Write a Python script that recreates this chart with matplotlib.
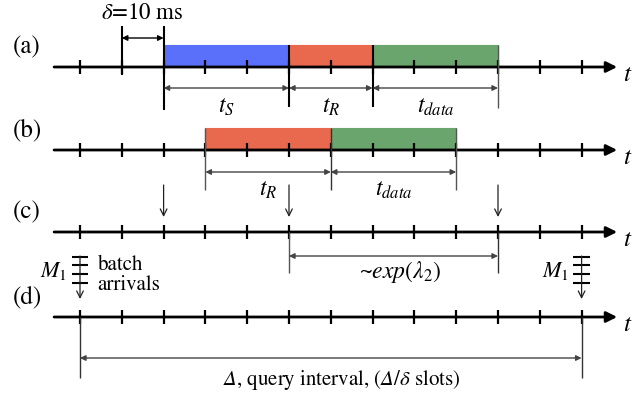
import matplotlib.pyplot as plt

plt.rcParams['font.family'] = 'STIXGeneral'
plt.rcParams['mathtext.fontset'] = 'custom'
plt.rcParams['mathtext.rm'] = 'STIXGeneral'
plt.rcParams['mathtext.it'] = 'STIXGeneral:italic'
plt.rcParams['mathtext.bf'] = 'STIXGeneral:bold'
plt.rcParams['mathtext.sf'] = 'STIXGeneral:italic'   # used for italic capital Delta

# slot grid: 13 tick positions per time line
slots = list(range(13))
row_names = ['(a)', '(b)', '(c)', '(d)']
row_y = [67, 150, 232, 317]

# phases drawn as coloured blocks: (start slot, end slot)
phases_a = [(2, 5), (5, 7), (7, 10)]
phases_b = [(3, 6), (6, 9)]
phase_colors_a = ['#5a70fa', '#e8694e', '#6aa56e']
phase_colors_b = ['#e8694e', '#6aa56e']

# dimension arrows: (row, start, end, label, label x, font size)
spans = [
    (0, 2, 5, r'$t_S$', 3.5, 17),
    (0, 5, 7, r'$t_R$', 6.0, 17),
    (0, 7, 10, r'$t_{data}$', 8.5, 17),
    (1, 3, 6, r'$t_R$', 4.5, 17),
    (1, 6, 9, r'$t_{data}$', 7.5, 17),
    (2, 5, 10, r'~$exp(\lambda_2)$', 7.65, 17),
    (3, 0, 12, r'$\mathsf{\Delta}$, query interval, ($\mathsf{\Delta}/\delta$ slots)', 6.25, 15),
]
span_offset = [21, 22, 24, 41]
label_offset = [40, 40, 40, 63]

# (row, slot, top, bottom, width, colour)
guides = [
    (0, 1, 26, 75, 1.5, 'k'), (0, 2, 26, 110, 1.5, 'k'),
    (0, 5, 45, 107, 1.5, 'k'), (0, 7, 45, 107, 1.5, 'k'),
    (0, 10, 45, 108, 1.0, '#555555'),
    (1, 3, 128, 190, 1.0, '#555555'), (1, 6, 128, 190, 1.0, '#333333'),
    (1, 9, 128, 190, 1.0, '#555555'),
    (2, 5, 232, 273, 1.0, '#555555'), (2, 10, 232, 273, 1.0, '#333333'),
    (3, 0, 317, 378, 1.0, '#333333'), (3, 12, 317, 378, 1.0, '#333333'),
]
arrivals_c = [2, 5, 10]
batch_slots = [0, 12]

fig = plt.figure(figsize=(6.39, 3.97), dpi=100)
ax = fig.add_axes([0, 0, 1, 1])
ax.set_xlim(-80 / 41.8, 559 / 41.8)
ax.set_ylim(397, 0)
ax.axis('off')

bar_h = 22
for s, c in zip(phases_a, phase_colors_a):
    ax.bar(s[0], -bar_h, width=s[1] - s[0], bottom=row_y[0], align='edge',
           color=c, edgecolor=c, lw=0.8, zorder=1)
for s, c in zip(phases_b, phase_colors_b):
    ax.bar(s[0], -bar_h, width=s[1] - s[0], bottom=row_y[1], align='edge',
           color=c, edgecolor=c, lw=0.8, zorder=1)

for name, y in zip(row_names, row_y):
    ax.annotate('', xy=(12.85, y), xytext=(-0.62, y),
                arrowprops=dict(arrowstyle='-|>', lw=2.0, color='k',
                                mutation_scale=16, shrinkA=0, shrinkB=0), zorder=3)
    ax.vlines(slots, y - 7, y + 7, color='k', lw=1.6, zorder=3)
    ax.text(13.1, y + 8, r'$t$', fontsize=18, ha='center', va='center')
    ax.text(-1.27, y - 20, name, fontsize=18, ha='center', va='center')

for r, x, top, bot, w, c in guides:
    ax.vlines(x, top, bot, color=c, lw=w, zorder=3)

for r, a, b, lab, lx, size in spans:
    y = row_y[r] + span_offset[r]
    ax.annotate('', xy=(b, y), xytext=(a, y),
                arrowprops=dict(arrowstyle='<|-|>', lw=1.0, color='#444444',
                                mutation_scale=8, shrinkA=0, shrinkB=0))
    ax.text(lx, row_y[r] + label_offset[r], lab, fontsize=size,
            ha='center', va='center')

# slot width marker
ax.annotate('', xy=(2, 38), xytext=(1, 38),
            arrowprops=dict(arrowstyle='<|-|>', lw=1.0, color='k',
                            mutation_scale=8, shrinkA=0, shrinkB=0))
ax.text(1.5, 13, r'$\delta$=10 ms', fontsize=16.5, ha='center', va='center')

for x in arrivals_c:
    ax.annotate('', xy=(x, 217), xytext=(x, 185),
                arrowprops=dict(arrowstyle='->', lw=0.9, color='#222222',
                                mutation_scale=12, shrinkA=0, shrinkB=0))

for x in batch_slots:
    ax.annotate('', xy=(x, 299), xytext=(x, 256),
                arrowprops=dict(arrowstyle='->', lw=0.9, color='#222222',
                                mutation_scale=12, shrinkA=0, shrinkB=0))
    ax.hlines([257, 265, 274, 283], x - 0.2, x + 0.2, color='k', lw=1.5)
    ax.text(x - 0.3, 271, r'$M_1$', fontsize=16, ha='right', va='center')

ax.text(0.42, 275, 'batch\narrivals', fontsize=15, ha='left', va='center',
        linespacing=1.0)

fig.savefig('out.png', dpi=100)
